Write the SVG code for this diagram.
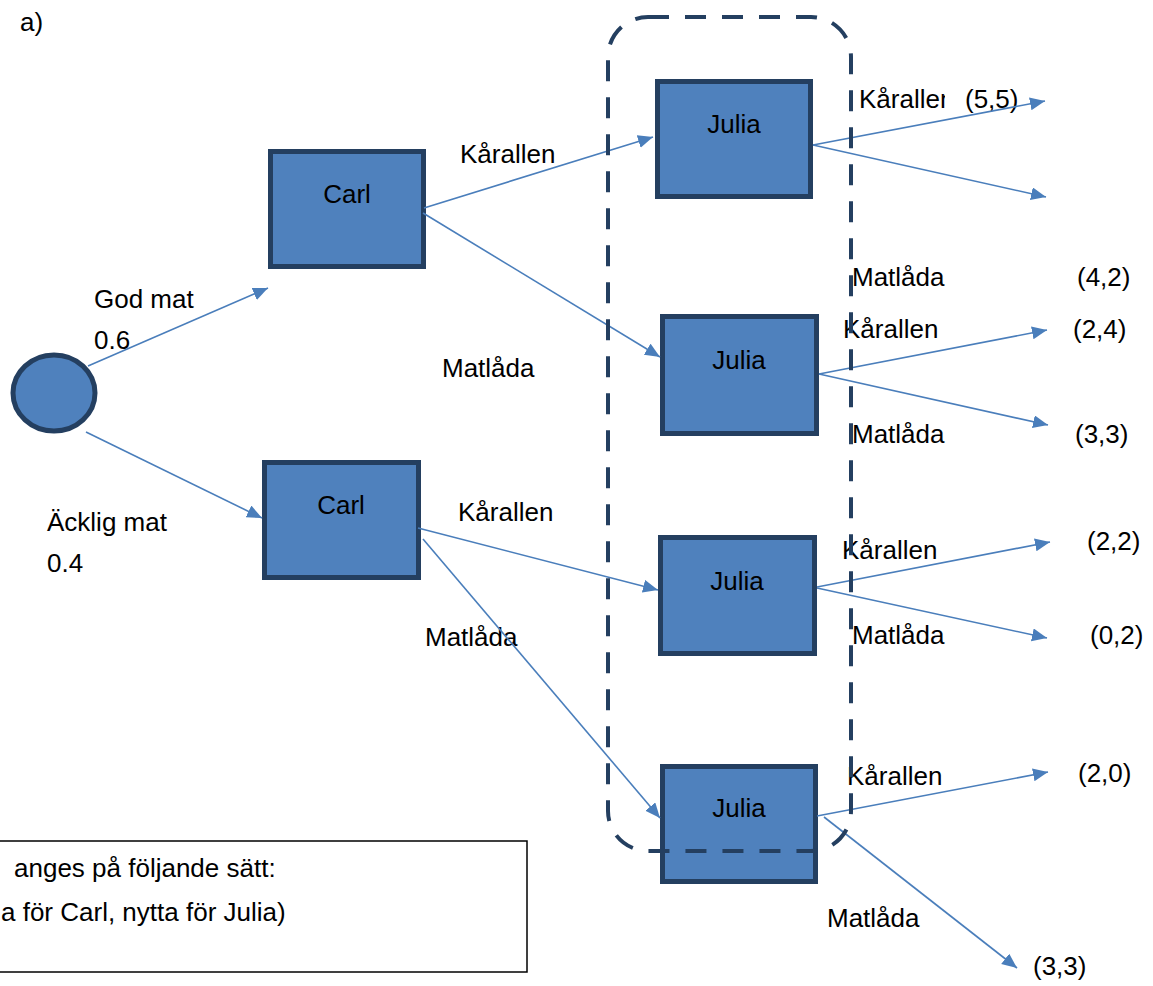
<svg xmlns="http://www.w3.org/2000/svg" width="1153" height="986" viewBox="0 0 1153 986">
<defs>
<style>
.t{font-family:"Liberation Sans",Arial,sans-serif;font-size:26px;fill:#000}
.c{text-anchor:middle}
.n{fill:#4F81BD;stroke:#243F60;stroke-width:5}
.e{fill:none;stroke:#4A7EBB;stroke-width:1.6}
</style>
<marker id="ah" markerUnits="userSpaceOnUse" markerWidth="16" markerHeight="14" refX="15" refY="6.5" orient="auto">
<path d="M0,0 L15,6.5 L0,13 z" fill="#4A7EBB"/>
</marker>
</defs>
<rect width="1153" height="986" fill="#fff"/>

<g id="labels">
<text class="t" x="20" y="31">a)</text>
<text class="t" x="94" y="308">God mat</text>
<text class="t" x="94" y="349">0.6</text>
<text class="t" x="47" y="531">Äcklig mat</text>
<text class="t" x="47" y="572">0.4</text>
<text class="t" x="460" y="163">Kårallen</text>
<text class="t" x="442" y="377">Matlåda</text>
<text class="t" x="458" y="521">Kårallen</text>
<text class="t" x="425" y="646">Matlåda</text>
<text class="t" x="859" y="108">Kårallen</text>
<rect x="945" y="84" width="78" height="30" fill="#fff"/>
<text class="t" x="965" y="108">(5,5)</text>
<text class="t" x="852" y="286">Matlåda</text>
<text class="t" x="1077" y="286">(4,2)</text>
<text class="t" x="843" y="338">Kårallen</text>
<text class="t" x="1073" y="338">(2,4)</text>
<text class="t" x="852" y="443">Matlåda</text>
<text class="t" x="1075" y="443">(3,3)</text>
<text class="t" x="842" y="559">Kårallen</text>
<text class="t" x="1087" y="550">(2,2)</text>
<text class="t" x="852" y="644">Matlåda</text>
<text class="t" x="1090" y="644">(0,2)</text>
<text class="t" x="847" y="785">Kårallen</text>
<text class="t" x="1078" y="782">(2,0)</text>
<text class="t" x="827" y="927">Matlåda</text>
<text class="t" x="1033" y="975">(3,3)</text>
</g>

<g id="legend">
<rect x="-5" y="841" width="532" height="131" fill="#fff" stroke="#000" stroke-width="1.5"/>
<text class="t" x="14" y="877">anges på följande sätt:</text>
<text class="t" x="1" y="921">a för Carl, nytta för Julia)</text>
</g>

<g id="chance">
<ellipse class="n" cx="54" cy="393" rx="41" ry="38"/>
</g>
<g id="carl1">
<rect class="n" x="270.5" y="151.5" width="153" height="115"/>
<text class="t c" x="347" y="203">Carl</text>
</g>
<g id="carl2">
<rect class="n" x="264.5" y="462.5" width="154" height="115"/>
<text class="t c" x="341" y="514">Carl</text>
</g>
<g id="julia1">
<rect class="n" x="657.5" y="81.5" width="153" height="115"/>
<text class="t c" x="734" y="133">Julia</text>
</g>
<g id="julia2">
<rect class="n" x="662.5" y="316.5" width="154" height="117"/>
<text class="t c" x="739" y="369">Julia</text>
</g>
<g id="julia3">
<rect class="n" x="660.5" y="537.5" width="154" height="116"/>
<text class="t c" x="737" y="590">Julia</text>
</g>
<g id="julia4">
<rect class="n" x="662.5" y="766.5" width="153" height="115"/>
<text class="t c" x="739" y="817">Julia</text>
</g>

<g id="connectors">
<path class="e" d="M88,366 L268,288" marker-end="url(#ah)"/>
<path class="e" d="M86,432 L262,518" marker-end="url(#ah)"/>
<path class="e" d="M424,208 L653,137" marker-end="url(#ah)"/>
<path class="e" d="M423,213 L660,357" marker-end="url(#ah)"/>
<path class="e" d="M418,528 L658,590" marker-end="url(#ah)"/>
<path class="e" d="M423,539 L660,818" marker-end="url(#ah)"/>
<path class="e" d="M813,145 L1045,101" marker-end="url(#ah)"/>
<path class="e" d="M813,145 L1046,197" marker-end="url(#ah)"/>
<path class="e" d="M819,374 L1047,330" marker-end="url(#ah)"/>
<path class="e" d="M819,374 L1048,425" marker-end="url(#ah)"/>
<path class="e" d="M817,587 L1050,542" marker-end="url(#ah)"/>
<path class="e" d="M817,588 L1047,638" marker-end="url(#ah)"/>
<path class="e" d="M817,816 L1048,772" marker-end="url(#ah)"/>
<path class="e" d="M824,817 L1017,968" marker-end="url(#ah)"/>
</g>

<g id="infoset">
<rect x="608" y="17" width="243" height="834" rx="40" ry="40" fill="none" stroke="#243F60" stroke-width="4" stroke-dasharray="21 16"/>
</g>
</svg>
